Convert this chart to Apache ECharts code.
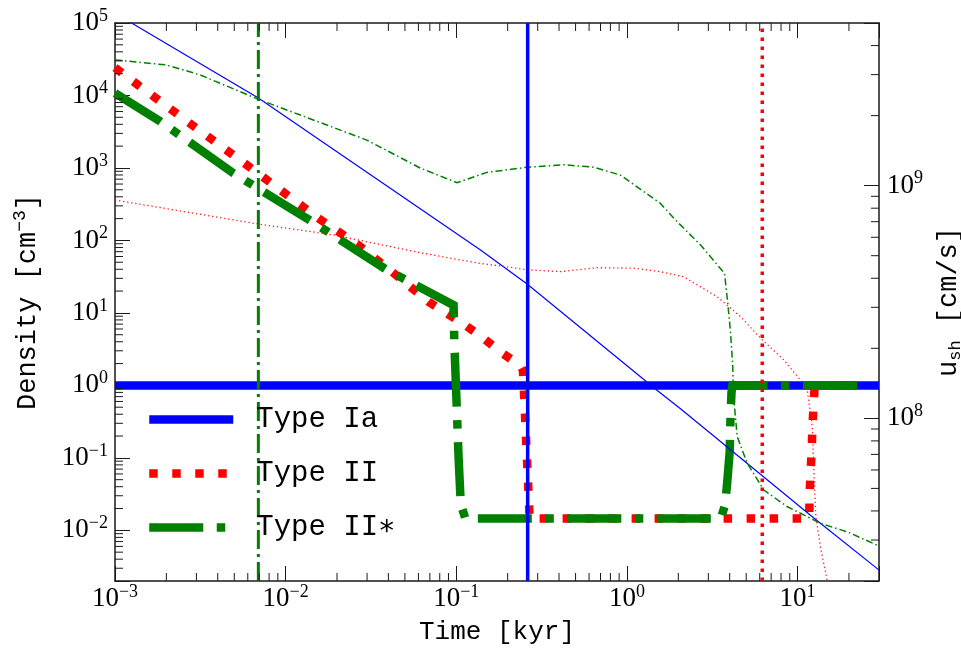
<!DOCTYPE html>
<html>
<head>
<meta charset="utf-8">
<script src="https://cdn.jsdelivr.net/npm/echarts@6/dist/echarts.min.js"></script>
<style>
  html, body { margin: 0; padding: 0; background: #ffffff; }
  #chart { width: 961px; height: 654px; }
</style>
</head>
<body>
<div id="chart"></div>
<script>
// ---- axis ranges ----
const timeRange = [0.001, 30];          // kyr
const densityRange = [0.002, 1e5];      // cm^-3
const speedRange = [2e7, 5e9];          // cm/s

// ---- ambient density seen by the shock, [time kyr, density cm^-3] ----
const densityTypeIa = [[0.001, 1], [30, 1]];
const densityTypeII = [
  [0.001, 2.42e4], [0.00134, 1.44e4], [0.00282, 3.94e3], [0.00592, 1.10e3],
  [0.01556, 202], [0.0267, 86.3], [0.0420, 36.9], [0.0689, 14.2],
  [0.113, 6.76], [0.145, 4.43], [0.185, 2.80], [0.237, 1.89],
  [0.246, 1.6], [0.269, 0.0146], [11.7, 0.0146], [11.75, 0.0294],
  [11.9, 0.060], [12.1, 0.123], [12.2, 0.25], [12.4, 0.51], [12.6, 1.0], [25, 1.0]
];
const densityTypeIIstar = [
  [0.001, 1.08e4], [0.00184, 4.39e3], [0.00494, 847], [0.01426, 182],
  [0.0393, 39.0], [0.0964, 12.8], [0.0973, 4.2], [0.1009, 0.41],
  [0.1031, 0.104], [0.1062, 0.023], [0.113, 0.0146], [3.55, 0.0146],
  [3.75, 0.022], [3.85, 0.04], [4.0, 0.12], [4.05, 0.4], [4.1, 0.8],
  [4.15, 1.0], [25, 1.0]
];

// ---- shock speed, [time kyr, u_sh cm/s] ----
const speedTypeIa = [
  [0.001, 5.5e9], [0.00125, 5.0e9], [0.00692, 2.38e9], [0.138, 5.30e8],
  [0.26, 3.78e8], [1.50, 1.32e8], [2.06, 1.10e8], [12.5, 3.72e7],
  [29.3, 2.26e7], [30, 2.23e7]
];
const speedTypeII = [
  [0.001, 8.67e8], [0.00692, 6.84e8], [0.0191, 6.14e8], [0.0615, 5.15e8],
  [0.138, 4.63e8], [0.181, 4.52e8], [0.260, 4.35e8], [0.407, 4.27e8],
  [0.668, 4.44e8], [1.10, 4.42e8], [1.57, 4.27e8], [2.15, 4.06e8],
  [3.38, 3.33e8], [4.62, 2.74e8], [6.07, 2.21e8], [8.32, 1.78e8],
  [10.4, 1.46e8], [11.4, 1.32e8], [12.2, 9.20e7], [12.5, 5.61e7],
  [12.8, 3.78e7], [13.6, 2.81e7], [14.9, 2.02e7], [15.5, 1.8e7]
];
const speedTypeIIstar = [
  [0.001, 3.47e9], [0.00201, 3.30e9], [0.00316, 2.99e9], [0.00692, 2.35e9],
  [0.0299, 1.57e9], [0.0615, 1.19e9], [0.101, 1.03e9], [0.151, 1.14e9],
  [0.260, 1.20e9], [0.426, 1.23e9], [0.638, 1.20e9], [0.916, 1.11e9],
  [1.57, 8.39e8], [1.92, 7.13e8], [2.70, 5.56e8], [3.73, 4.20e8],
  [3.90, 3.12e8], [4.05, 2.32e8], [4.17, 1.67e8], [4.2, 1.28e8],
  [4.43, 8.34e7], [5.07, 6.41e7], [6.34, 4.92e7], [8.71, 4.17e7],
  [13.6, 3.54e7], [19.6, 3.25e7], [29.3, 2.85e7], [30, 2.84e7]
];

// ---- characteristic times marked by vertical lines (kyr) ----
const markTimeTypeIa = 0.262;
const markTimeTypeII = 6.21;
const markTimeTypeIIstar = 0.00692;

const legendNames = ['Type Ia', 'Type II', 'Type II\u2217'];

const BLUE = '#0000ff', RED = '#ff0000', GREEN = '#008000';
const INK = '#1a1a1a';
const SERIF = '"Liberation Serif", "DejaVu Serif", serif';
const MONO = '"Liberation Mono", "DejaVu Sans Mono", monospace';

// line styles of the three density curves (also used by the legend keys)
const thickIa = { color: BLUE, width: 8.5, type: 'solid', cap: 'butt' };
const thickII = { color: RED, width: 8.5, type: [8.5, 14.5], cap: 'butt' };
const thickIIstar = { color: GREEN, width: 8.5, type: [54, 13.5, 8.5, 13.5], cap: 'butt' };

function decadeLabel(v) {
  const e = Math.log10(v);
  const r = Math.round(e);
  if (Math.abs(e - r) > 1e-6) return '';
  const exp = r < 0 ? '\u2212' + (-r) : String(r);
  return '{m|10}{e|' + exp + '}';
}
const tickRich = {
  m: { fontFamily: SERIF, fontSize: 27, lineHeight: 32, color: '#000' },
  e: { fontFamily: SERIF, fontSize: 18, lineHeight: 16, verticalAlign: 'top', color: '#000' }
};

function vline(t) { return [[t, densityRange[0]], [t, densityRange[1]]]; }

function lineSeries(name, data, yIdx, style) {
  return {
    type: 'line', name: name, data: data, yAxisIndex: yIdx, xAxisIndex: 0,
    symbol: 'none', showSymbol: false, smooth: false, animation: false,
    lineStyle: Object.assign({ join: 'miter' }, style),
    itemStyle: { color: style.color },
    emphasis: { disabled: true }, silent: true
  };
}

const chart = echarts.init(document.getElementById('chart'), null, { renderer: 'canvas' });

const option = {
  backgroundColor: '#ffffff',
  animation: false,
  grid: { left: 115, top: 23, width: 764, height: 558, containLabel: false, outerBoundsMode: 'none' },
  legend: {
    data: [
      { name: legendNames[0], lineStyle: thickIa },
      { name: legendNames[1], lineStyle: thickII },
      { name: legendNames[2], lineStyle: thickIIstar }
    ],
    orient: 'vertical',
    left: 140, top: 400,
    itemWidth: 84, itemHeight: 26, itemGap: 25,
    itemStyle: { opacity: 0 },
    textStyle: { fontFamily: MONO, fontSize: 29, color: '#000', padding: [0, 0, 0, 18], lineHeight: 26 },
    selectedMode: false
  },
  xAxis: [
    {
      type: 'log', logBase: 10, min: timeRange[0], max: timeRange[1], position: 'bottom',
      splitNumber: 5,
      name: 'Time [kyr]', nameLocation: 'middle', nameGap: 38,
      nameTextStyle: { fontFamily: MONO, fontSize: 26, color: '#000' },
      axisLine: { show: true, lineStyle: { color: INK, width: 1.5 } },
      axisTick: { show: true, inside: true, length: 15, lineStyle: { color: INK, width: 1 } },
      axisLabel: { formatter: decadeLabel, margin: 2, rich: tickRich },
      splitLine: { show: false }
    },
    {
      type: 'log', logBase: 10, min: timeRange[0], max: timeRange[1], position: 'top',
      splitNumber: 5,
      axisLine: { show: true, lineStyle: { color: INK, width: 1.5 } },
      axisTick: { show: true, inside: true, length: 15, lineStyle: { color: INK, width: 1 } },
      axisLabel: { show: false },
      splitLine: { show: false }
    }
  ],
  yAxis: [
    {
      type: 'log', logBase: 10, min: densityRange[0], max: densityRange[1], position: 'left',
      splitNumber: 8,
      name: 'Density [cm{sup|\u22123}]', nameLocation: 'middle', nameGap: 70, nameRotate: 90,
      nameTextStyle: {
        fontFamily: MONO, fontSize: 27, color: '#000', lineHeight: 34,
        rich: { sup: { fontFamily: MONO, fontSize: 18, lineHeight: 18, verticalAlign: 'top', color: '#000' } }
      },
      axisLine: { show: true, lineStyle: { color: INK, width: 1.5 } },
      axisTick: { show: true, inside: true, length: 15, lineStyle: { color: INK, width: 1 } },
      axisLabel: { formatter: decadeLabel, margin: 7, rich: tickRich },
      splitLine: { show: false }
    },
    {
      type: 'log', logBase: 10, min: speedRange[0], max: speedRange[1], position: 'right',
      splitNumber: 3,
      name: 'u{sub|sh} [cm/s]', nameLocation: 'middle', nameGap: 46, nameRotate: 90,
      nameTextStyle: {
        fontFamily: MONO, fontSize: 27, color: '#000', lineHeight: 30,
        rich: { sub: { fontFamily: MONO, fontSize: 17, lineHeight: 14, verticalAlign: 'bottom', color: '#000' } }
      },
      axisLine: { show: true, lineStyle: { color: INK, width: 1.5 } },
      axisTick: { show: true, inside: true, length: 15, lineStyle: { color: INK, width: 1 } },
      axisLabel: { formatter: decadeLabel, margin: 8, rich: tickRich },
      splitLine: { show: false }
    }
  ],
  series: [
    // ambient density (thick)
    lineSeries(legendNames[0], densityTypeIa, 0, thickIa),
    lineSeries(legendNames[1], densityTypeII, 0, thickII),
    lineSeries(legendNames[2], densityTypeIIstar, 0, thickIIstar),
    // shock speed (thin, right axis)
    lineSeries('u_sh Type Ia', speedTypeIa, 1, { color: BLUE, width: 1.2, type: 'solid' }),
    lineSeries('u_sh Type II', speedTypeII, 1, { color: RED, width: 1.3, type: [1.3, 2.8], cap: 'butt', opacity: 0.9 }),
    lineSeries('u_sh Type II*', speedTypeIIstar, 1, { color: GREEN, width: 1.5, type: [7, 3, 1.5, 3], cap: 'butt' }),
    // characteristic times
    lineSeries('t Type Ia', vline(markTimeTypeIa), 0, { color: BLUE, width: 3.5, type: 'solid' }),
    lineSeries('t Type II', vline(markTimeTypeII), 0, { color: RED, width: 3.5, type: [3.5, 5.5], cap: 'butt' }),
    lineSeries('t Type II*', vline(markTimeTypeIIstar), 0, { color: GREEN, width: 3, type: [19, 5, 3, 5], cap: 'butt' })
  ]
};

chart.setOption(option);

// Minor (2..9 per decade) ticks on all four sides, placed through the axes' own scales.
function minorValues(range) {
  const out = [];
  const lo = Math.floor(Math.log10(range[0])), hi = Math.ceil(Math.log10(range[1]));
  for (let e = lo; e <= hi; e++) {
    for (let k = 2; k <= 9; k++) {
      const v = k * Math.pow(10, e);
      if (v > range[0] * 1.0001 && v < range[1] * 0.9999) out.push(v);
    }
  }
  return out;
}
function tickLine(x1, y1, x2, y2) {
  return { type: 'line', silent: true, z: 10,
    shape: { x1: x1, y1: y1, x2: x2, y2: y2 },
    style: { stroke: INK, lineWidth: 1 } };
}
const MINOR = 8;
const xLeft = chart.convertToPixel({ xAxisIndex: 0 }, timeRange[0]);
const xRight = chart.convertToPixel({ xAxisIndex: 0 }, timeRange[1]);
const yBottom = chart.convertToPixel({ yAxisIndex: 0 }, densityRange[0]);
const yTop = chart.convertToPixel({ yAxisIndex: 0 }, densityRange[1]);
const ticks = [];
minorValues(timeRange).forEach(function (v) {
  const px = chart.convertToPixel({ xAxisIndex: 0 }, v);
  ticks.push(tickLine(px, yBottom, px, yBottom - MINOR));
  ticks.push(tickLine(px, yTop, px, yTop + MINOR));
});
minorValues(densityRange).forEach(function (v) {
  const py = chart.convertToPixel({ yAxisIndex: 0 }, v);
  ticks.push(tickLine(xLeft, py, xLeft + MINOR, py));
});
minorValues(speedRange).forEach(function (v) {
  const py = chart.convertToPixel({ yAxisIndex: 1 }, v);
  ticks.push(tickLine(xRight, py, xRight - MINOR, py));
});
chart.setOption({ graphic: ticks });
</script>
</body>
</html>
